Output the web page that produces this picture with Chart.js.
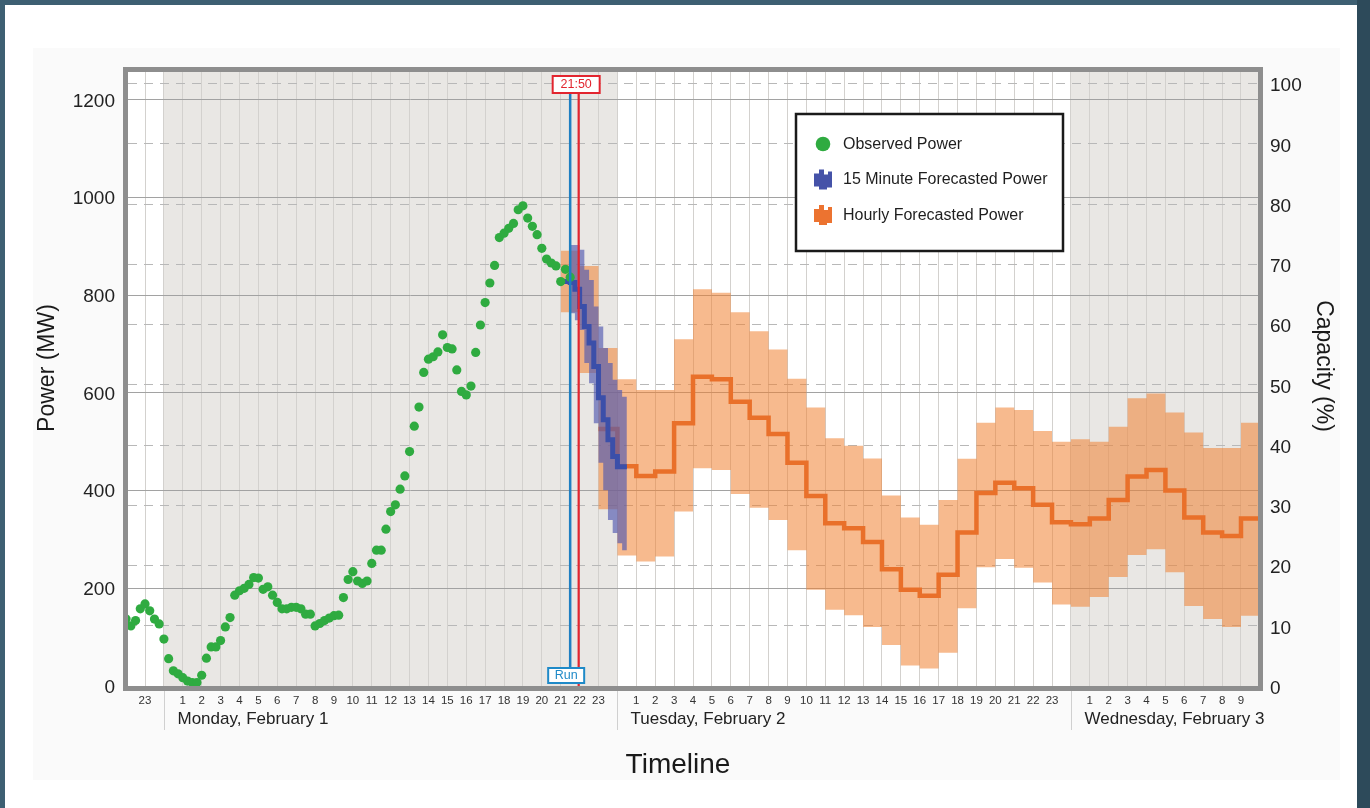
<!DOCTYPE html>
<html>
<head>
<meta charset="utf-8">
<script src="https://cdn.jsdelivr.net/npm/chart.js@4.4.1/dist/chart.umd.min.js"></script>
<style>
  html, body { margin: 0; padding: 0; background: #3d5f72; }
  #wrap { position: absolute; left: 0; top: 0; width: 1370px; height: 808px; }
</style>
</head>
<body>
<div id="wrap"><canvas id="forecast_chart" width="1370" height="808"></canvas></div>
<script>
// hours are counted from Monday 00:00
var obsStart = -2.0;
var obsStep = 0.25;
var observedPower = [
  137, 123, 134, 158, 168, 154, 137, 127,
  96, 56, 31, 25, 17, 10, 7, 7,
  22, 57, 80, 80, 93, 121, 140, 186,
  195, 200, 208, 222, 221, 198, 203, 186,
  171, 158, 158, 161, 161, 158, 147, 147,
  123, 128, 134, 139, 144, 145, 181, 218,
  234, 215, 210, 215, 251, 278, 278, 321,
  357, 371, 403, 430, 480, 532, 571, 642,
  669, 674, 684, 719, 693, 690, 647, 603,
  596, 614, 683, 739, 785, 825, 861, 918,
  927, 937, 947, 975, 983, 958, 941, 924,
  896, 874, 866, 860, 828, 853, 837
];

var quarterStart = 21.0;
var quarterForecast = [828, 828, 826, 812, 777, 736, 702, 654, 590, 545, 504, 470, 449, 449];
var quarterBandStart = 21.5;
var quarterUpper = [903, 903, 893, 852, 831, 777, 736, 692, 661, 627, 606, 592];
var quarterLower = [763, 749, 729, 661, 620, 538, 457, 401, 340, 313, 292, 278];

var hourlyBandStart = 21;
var hourlyUpper = [891, 860, 692, 628, 606, 606, 710, 812, 805, 765, 726, 689, 629, 570, 507, 492, 466, 390, 345,
  330, 381, 465, 539, 570, 565, 522, 500, 505, 500, 531, 589, 599, 560, 519, 487, 487, 539];
var hourlyLower = [765, 641, 362, 267, 255, 265, 357, 446, 442, 393, 365, 340, 278, 197, 156, 145, 121, 84, 42,
  36, 68, 159, 243, 260, 242, 212, 167, 162, 182, 223, 268, 280, 233, 164, 137, 121, 144];
var hourlyStart = 23;
var hourlyForecast = [526, 450, 430, 439, 538, 633, 628, 582, 549, 516, 457, 389, 333, 323, 295, 239, 197, 185,
  228, 314, 395, 416, 405, 371, 335, 331, 343, 381, 429, 442, 400, 345, 314, 307, 343];

var runHour = 21.5;
var nowHour = 21.95;
var nowLabel = '21:50';
var runLabel = 'Run';

var dayStarts = [0, 24, 48];
var dayLabels = ['Monday, February 1', 'Tuesday, February 2', 'Wednesday, February 3'];
var shadedDays = [[0, 24], [48, 72]];

var xMin = -1.9, xMax = 57.9;
var yMax = 1257;
var capacityMW = 1233;

var fontFamily = "'Liberation Sans', Arial, Helvetica, sans-serif";

// value i holds from start + i*step until the next step
function stepPoints(start, step, values) {
  var pts = values.map(function(v, i) { return {x: start + i * step, y: v}; });
  pts.push({x: start + values.length * step, y: values[values.length - 1]});
  return pts;
}

var observedPoints = observedPower.map(function(v, i) { return {x: obsStart + i * obsStep, y: v}; });

var backgroundPlugin = {
  id: 'background',
  beforeDraw: function(chart) {
    var ctx = chart.ctx, a = chart.chartArea, x = chart.scales.x;
    ctx.save();
    ctx.fillStyle = '#3d5f72';
    ctx.fillRect(0, 0, chart.width, chart.height);
    ctx.fillStyle = '#2d4a5a';
    ctx.fillRect(1357, 0, 13, chart.height);
    ctx.fillStyle = '#ffffff';
    ctx.fillRect(5, 5, 1352, chart.height - 5);
    ctx.fillStyle = '#fafafa';
    ctx.fillRect(33, 48, 1307, 732);
    ctx.fillStyle = '#ffffff';
    ctx.fillRect(a.left, a.top, a.right - a.left, a.bottom - a.top);
    ctx.beginPath();
    ctx.rect(a.left, a.top, a.right - a.left, a.bottom - a.top);
    ctx.clip();
    ctx.fillStyle = '#e9e7e4';
    shadedDays.forEach(function(d) {
      var x0 = x.getPixelForValue(d[0]), x1 = x.getPixelForValue(d[1]);
      ctx.fillRect(x0, a.top, x1 - x0, a.bottom - a.top);
    });
    ctx.restore();
  }
};

var markerPlugin = {
  id: 'markers',
  afterDatasetsDraw: function(chart) {
    var ctx = chart.ctx, a = chart.chartArea, x = chart.scales.x;
    var xr = x.getPixelForValue(runHour), xn = x.getPixelForValue(nowHour);
    ctx.save();
    ctx.lineWidth = 2.5;
    ctx.strokeStyle = '#1f7fc2';
    ctx.beginPath(); ctx.moveTo(xr, a.top + 20); ctx.lineTo(xr, a.bottom - 18); ctx.stroke();
    ctx.lineWidth = 2.2;
    ctx.strokeStyle = '#e2252f';
    ctx.beginPath(); ctx.moveTo(xn, a.top + 20); ctx.lineTo(xn, a.bottom); ctx.stroke();

    ctx.font = '12.5px ' + fontFamily;
    ctx.textAlign = 'center';
    ctx.textBaseline = 'middle';
    // time label box
    ctx.fillStyle = '#ffffff';
    ctx.fillRect(xn - 26, a.top + 4, 47, 17);
    ctx.lineWidth = 2;
    ctx.strokeStyle = '#e2252f';
    ctx.strokeRect(xn - 26, a.top + 4, 47, 17);
    ctx.fillStyle = '#e2252f';
    ctx.fillText(nowLabel, xn - 2.5, a.top + 13);
    // run label box
    ctx.fillStyle = '#ffffff';
    ctx.fillRect(xr - 22, a.bottom - 18, 36, 15);
    ctx.strokeStyle = '#1f8ac8';
    ctx.strokeRect(xr - 22, a.bottom - 18, 36, 15);
    ctx.fillStyle = '#1f8ac8';
    ctx.fillText(runLabel, xr - 4, a.bottom - 10);
    ctx.restore();
  }
};

var decorPlugin = {
  id: 'decor',
  afterDraw: function(chart) {
    var ctx = chart.ctx, a = chart.chartArea, x = chart.scales.x;
    ctx.save();
    // frame
    ctx.lineWidth = 5;
    ctx.strokeStyle = '#8e8e8e';
    ctx.strokeRect(a.left - 2.5, a.top - 2.5, a.right - a.left + 5, a.bottom - a.top + 5);

    // day separators and labels
    ctx.lineWidth = 1;
    ctx.strokeStyle = '#d0d0d0';
    ctx.fillStyle = '#222';
    ctx.font = '17px ' + fontFamily;
    ctx.textAlign = 'left';
    ctx.textBaseline = 'middle';
    dayStarts.forEach(function(d, i) {
      var px = Math.round(x.getPixelForValue(d)) + 0.5;
      ctx.beginPath(); ctx.moveTo(px, a.bottom + 5); ctx.lineTo(px, a.bottom + 44); ctx.stroke();
      ctx.fillText(dayLabels[i], px + 13, a.bottom + 33);
    });

    // axis titles
    ctx.fillStyle = '#1a1a1a';
    ctx.textAlign = 'center';
    ctx.font = '28px ' + fontFamily;
    ctx.fillText('Timeline', 678, 765);
    ctx.font = '23px ' + fontFamily;
    ctx.save();
    ctx.translate(48, 368);
    ctx.rotate(-Math.PI / 2);
    ctx.fillText('Power (MW)', 0, 0);
    ctx.restore();
    ctx.save();
    ctx.translate(1323, 366);
    ctx.rotate(Math.PI / 2);
    ctx.fillText('Capacity (%)', 0, 0);
    ctx.restore();

    // legend
    var lx = 796, ly = 114, lw = 267, lh = 137;
    ctx.fillStyle = '#ffffff';
    ctx.fillRect(lx, ly, lw, lh);
    ctx.lineWidth = 2.5;
    ctx.strokeStyle = '#1a1a1a';
    ctx.strokeRect(lx, ly, lw, lh);
    var rows = [
      {text: 'Observed Power', color: '#2fab40', kind: 'dot'},
      {text: '15 Minute Forecasted Power', color: '#4552a8', kind: 'band'},
      {text: 'Hourly Forecasted Power', color: '#ec7330', kind: 'band'}
    ];
    ctx.font = '16px ' + fontFamily;
    ctx.textAlign = 'left';
    rows.forEach(function(r, i) {
      var cy = ly + 30 + i * 35.5, cx = lx + 27;
      ctx.fillStyle = r.color;
      if (r.kind === 'dot') {
        ctx.beginPath(); ctx.arc(cx, cy, 7.3, 0, Math.PI * 2); ctx.fill();
      } else {
        ctx.beginPath();
        ctx.moveTo(cx - 9, cy - 6);
        ctx.lineTo(cx - 4, cy - 6);
        ctx.lineTo(cx - 4, cy - 10);
        ctx.lineTo(cx + 1, cy - 10);
        ctx.lineTo(cx + 1, cy - 5);
        ctx.lineTo(cx + 5, cy - 5);
        ctx.lineTo(cx + 5, cy - 8);
        ctx.lineTo(cx + 9, cy - 8);
        ctx.lineTo(cx + 9, cy + 8);
        ctx.lineTo(cx + 4, cy + 8);
        ctx.lineTo(cx + 4, cy + 10);
        ctx.lineTo(cx - 4, cy + 10);
        ctx.lineTo(cx - 4, cy + 7);
        ctx.lineTo(cx - 9, cy + 7);
        ctx.closePath();
        ctx.fill();
      }
      ctx.fillStyle = '#1e1e1e';
      ctx.fillText(r.text, lx + 47, cy + 0.5);
    });
    ctx.restore();
  }
};

var chart = new Chart('forecast_chart', {
  type: 'line',
  data: {
    datasets: [{
      label: 'Observed Power',
      data: observedPoints,
      showLine: false,
      pointRadius: 4.6,
      pointBackgroundColor: '#2fab40',
      pointBorderWidth: 0,
      order: 0
    }, {
      label: '15 Minute Forecasted Power',
      data: stepPoints(quarterStart, 0.25, quarterForecast),
      stepped: 'before',
      borderColor: '#3b4fa9',
      borderWidth: 5,
      pointRadius: 0,
      fill: false,
      order: 1
    }, {
      label: '15 minute upper',
      data: stepPoints(quarterBandStart, 0.25, quarterUpper),
      stepped: 'before',
      borderColor: 'transparent',
      borderWidth: 1,
      pointRadius: 0,
      fill: '+1',
      backgroundColor: 'rgba(82,90,176,0.66)',
      order: 2
    }, {
      label: '15 minute lower',
      data: stepPoints(quarterBandStart, 0.25, quarterLower),
      stepped: 'before',
      borderColor: 'transparent',
      borderWidth: 1,
      pointRadius: 0,
      fill: false,
      order: 3
    }, {
      label: 'Hourly Forecasted Power',
      data: stepPoints(hourlyStart, 1, hourlyForecast),
      stepped: 'before',
      borderColor: '#e9702a',
      borderWidth: 4.5,
      pointRadius: 0,
      fill: false,
      order: 4
    }, {
      label: 'hourly upper',
      data: stepPoints(hourlyBandStart, 1, hourlyUpper),
      stepped: 'before',
      borderColor: 'transparent',
      borderWidth: 1,
      pointRadius: 0,
      fill: '+1',
      backgroundColor: 'rgba(240,130,50,0.55)',
      order: 5
    }, {
      label: 'hourly lower',
      data: stepPoints(hourlyBandStart, 1, hourlyLower),
      stepped: 'before',
      borderColor: 'transparent',
      borderWidth: 1,
      pointRadius: 0,
      fill: false,
      order: 6
    }]
  },
  options: {
    responsive: false,
    animation: false,
    devicePixelRatio: 1,
    layout: { padding: { top: 72, left: 0, right: 0, bottom: 0 } },
    plugins: {
      legend: { display: false },
      tooltip: { enabled: false }
    },
    scales: {
      x: {
        type: 'linear',
        min: xMin,
        max: xMax,
        afterFit: function(s) { s.height = 122; },
        grid: { color: '#d3d1ce', lineWidth: 1, drawTicks: false },
        border: { display: false },
        ticks: {
          stepSize: 1,
          includeBounds: false,
          autoSkip: false,
          maxRotation: 0,
          padding: 8,
          color: '#333',
          font: { size: 11.5, family: fontFamily },
          callback: function(v) {
            var h = ((v % 24) + 24) % 24;
            return h === 0 ? '' : String(h);
          }
        }
      },
      y: {
        position: 'left',
        min: 0,
        max: yMax,
        afterFit: function(s) { s.width = 128; },
        grid: { color: '#a2a2a2', lineWidth: 1, drawTicks: false },
        border: { display: false },
        ticks: {
          stepSize: 200,
          includeBounds: false,
          padding: 13,
          labelOffset: 1.5,
          color: '#222',
          font: { size: 19, family: fontFamily },
          callback: function(v) { return String(v); }
        }
      },
      y2: {
        position: 'right',
        min: 0,
        max: yMax / capacityMW * 100,
        afterFit: function(s) { s.width = 112; },
        grid: { color: '#b8b8b8', lineWidth: 1, drawTicks: false },
        border: { display: false, dash: [9, 7] },
        ticks: {
          stepSize: 10,
          includeBounds: false,
          padding: 12,
          labelOffset: 2.5,
          color: '#222',
          font: { size: 19, family: fontFamily },
          callback: function(v) { return String(v); }
        }
      }
    }
  },
  plugins: [backgroundPlugin, markerPlugin, decorPlugin]
});
</script>
</body>
</html>
